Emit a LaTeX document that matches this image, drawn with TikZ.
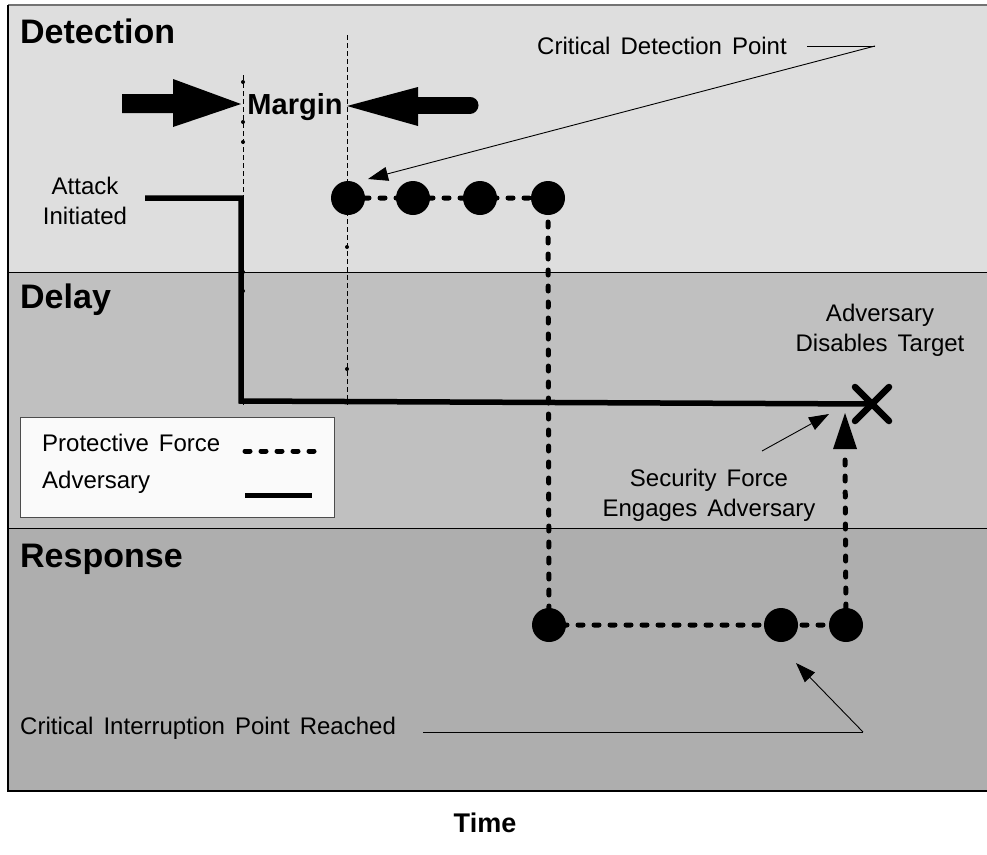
\documentclass[tikz,border=0pt]{standalone}
\usepackage{fontspec}
\setmainfont{Liberation Sans}
\usetikzlibrary{arrows.meta}
\definecolor{detc}{HTML}{DEDEDE}
\definecolor{delc}{HTML}{C0C0C0}
\definecolor{resc}{HTML}{AEAEAE}
\definecolor{legc}{HTML}{FAFAFA}
\newcommand{\widesp}{\spaceskip=0.42em plus 0.1em\relax}
\begin{document}
\begin{tikzpicture}[x=1pt,y=-1pt,
  dot/.style={circle,fill=black,minimum size=34pt,inner sep=0pt},
  smalldot/.style={circle,fill=black,minimum size=4pt,inner sep=0pt},
  pf/.style={line width=5pt,dash pattern=on 5pt off 11pt,line cap=round},
  adv/.style={line width=5.5pt},
  guide/.style={line width=0.8pt,dash pattern=on 5pt off 3pt},
  lead/.style={line width=0.9pt},
  leadarrow/.style={line width=0.9pt,-{Triangle[length=20pt,width=14pt]}},
  lbl/.style={font=\fontsize{24}{30}\selectfont\widesp,align=center,inner sep=0pt},
  band/.style={font=\bfseries\fontsize{34}{38}\selectfont,anchor=west,inner sep=0pt}
]
\useasboundingbox (0,0) rectangle (987,854);
\fill[white] (0,0) rectangle (987,854);
% bands
\fill[detc] (8,5) rectangle (990,272);
\fill[delc] (8,272) rectangle (990,528);
\fill[resc] (8,528) rectangle (990,791);
\draw[line width=0.9pt] (8,272) -- (990,272);
\draw[line width=0.9pt] (8,528) -- (990,528);
\draw[line width=2pt,color=black!55] (8,5) -- (990,5);
\draw[line width=1.5pt] (8,5) -- (8,791) -- (990,791);
\node[band] (det) at (20,31) {Detection};
\node[band] (del) at (20,300) {Delay};
\node[band] (res) at (20,559) {Response};

% guide lines
\draw[guide] (243,75) -- (243,405);
\draw[guide] (347,35) -- (347,405);
\foreach \p in {(243,82),(243,122),(243,142),(243,272),(243,291),(347,247),(347,369)}
  \node[smalldot] at \p {};

% margin arrows
\fill (122,94) -- (173,94) -- (173,79) -- (241,104) -- (173,127) -- (173,113) -- (122,113) -- cycle;
\draw[line width=17pt,line cap=round] (418,105) -- (470,105);
\fill (347,106) -- (418,87) -- (418,126) -- cycle;
\node[font=\bfseries\fontsize{29}{33}\selectfont,inner sep=0pt] (margin) at (295,107) {Margin};

% adversary path
\node[lbl] (atk) at (85,201) {Attack\\Initiated};
\coordinate (a0) at (145,198);
\coordinate (X) at (872,404);
\draw[adv] (a0) -- (241,198) -- (241,401) -- (X);
\draw[line width=6.5pt,line cap=round] ([shift={(-17,-17)}]X) -- ([shift={(17,17)}]X);
\draw[line width=6.5pt,line cap=round] ([shift={(-17,17)}]X) -- ([shift={(17,-17)}]X);
\node[lbl] (adt) at (880,330) {Adversary\\Disables Target};

% protective force path
\node[dot] (d1) at (348,198) {};
\node[dot] (d2) at (413,198) {};
\node[dot] (d3) at (480,198) {};
\node[dot] (d4) at (548,198) {};
\node[dot] (r1) at (549,625) {};
\node[dot] (r2) at (781,625) {};
\node[dot] (r3) at (846,625) {};
\coordinate (tipX) at (845,413);
\draw[pf] (d1.center) -- (d2.center) -- (d3.center) -- (d4.center) -- (r1.center) -- (r2.center) -- (r3.center);
\draw[pf] (r3.center) -- ([shift={(0,40)}]tipX);
\fill (tipX) -- ([shift={(-12,36)}]tipX) -- ([shift={(12,36)}]tipX) -- cycle;

% labels with leaders
\node[lbl,anchor=west] (cdp) at (537,46) {Critical Detection Point};
\coordinate (cdpk) at (875,46);
\coordinate (cdptip) at (368,179);
\draw[lead] ([xshift=20]cdp.east) -- (cdpk);
\draw[leadarrow] (cdpk) -- (cdptip);

\node[lbl] (sfe) at (709,495) {Security Force\\Engages Adversary};
\coordinate (sfa) at (762,451);
\coordinate (sfb) at (829,414);
\draw[leadarrow] (sfa) -- (sfb);

\node[lbl,anchor=west] (cip) at (20,728) {Critical Interruption Point Reached};
\coordinate (cipk) at (863,732);
\coordinate (ciptip) at (796,663);
\draw[lead] ([xshift=27,yshift=-4]cip.east) -- (cipk);
\draw[leadarrow] (cipk) -- (ciptip);

% legend
\node[draw=black!70,line width=0.9pt,fill=legc,minimum width=314pt,minimum height=100pt,anchor=north west,inner sep=0pt] (legend) at (20,417) {};
\node[lbl,anchor=west] (lgpf) at (42,443) {Protective Force};
\node[lbl,anchor=west] (lgad) at (42,482) {Adversary};
\draw[pf] (245,451) -- (315,451);
\draw[line width=5pt] (245,495) -- (312,495);

\node[font=\bfseries\fontsize{27}{31}\selectfont,inner sep=0pt] (time) at (485,823) {Time};
\end{tikzpicture}
\end{document}
